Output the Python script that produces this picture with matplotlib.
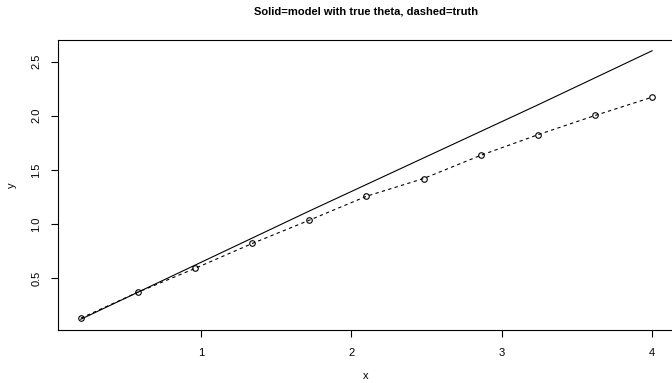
import matplotlib
matplotlib.use("Agg")
import matplotlib.pyplot as plt

plt.rcParams['font.family'] = ['Liberation Sans', 'DejaVu Sans']

x = [0.2, 0.58, 0.96, 1.34, 1.72, 2.1, 2.48, 2.86, 3.24, 3.62, 4.0]
y_model = [0.12, 0.37, 0.62, 0.87, 1.12, 1.365, 1.61, 1.855, 2.10, 2.35, 2.60]
y_truth = [0.13, 0.37, 0.59, 0.82, 1.035, 1.256, 1.42, 1.634, 1.824, 2.002, 2.171]
xticks = [1, 2, 3, 4]
yticks = [0.5, 1.0, 1.5, 2.0, 2.5]

W, H = 672, 383
fig = plt.figure(figsize=(W/100, H/100), dpi=100)
ax = fig.add_axes([58/W, (H-330)/H, (675-58)/W, 290/H])

ax.plot(x, y_model, color='black', lw=0.8)
ax.plot(x, y_truth, color='black', lw=0.8, linestyle=(0, (3, 3)),
        marker='o', markersize=4, markerfacecolor='none', markeredgewidth=0.8)

xr = max(x) - min(x)
ymin = min(y_model + y_truth); ymax = max(y_model + y_truth)
yr = ymax - ymin
ax.set_xlim(min(x) - 0.04*xr, max(x) + 0.04*xr)
ax.set_ylim(ymin - 0.04*yr, ymax + 0.04*yr)

ax.set_xticks(xticks)
ax.set_xticklabels([str(t) for t in xticks])
ax.set_yticks(yticks)
ax.set_yticklabels([f"{t:.1f}" for t in yticks], rotation=90, va='center')
ax.tick_params(direction='out', length=5, width=0.8, labelsize=8)
ax.tick_params(axis='x', pad=8)
ax.tick_params(axis='y', pad=7)
for s in ax.spines.values():
    s.set_linewidth(0.8)

fig.text(366/W, 1 - 12/H, "Solid=model with true theta, dashed=truth",
         ha='center', va='center', fontsize=8, fontweight='bold')
fig.text(366/W, 1 - 376/H, "x", ha='center', va='center', fontsize=8)
fig.text(12/W, 1 - 185/H, "y", ha='center', va='center', fontsize=8, rotation=90)

fig.savefig("out.png", dpi=100)
